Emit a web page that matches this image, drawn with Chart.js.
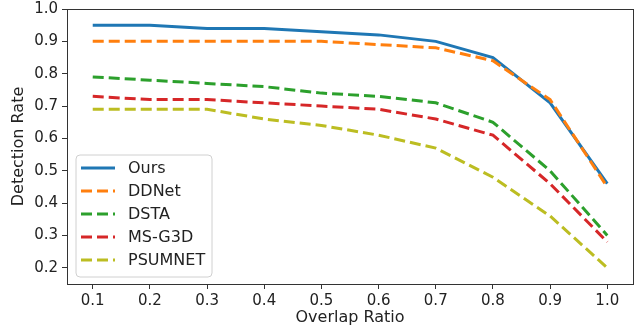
<!DOCTYPE html>
<html>
<head>
<meta charset="utf-8">
<script src="https://cdn.jsdelivr.net/npm/chart.js@4"></script>
<style>
  body { margin: 0; background: #fff; }
  #wrap { width: 637px; height: 327px; }
</style>
</head>
<body>
<div id="wrap"><canvas id="chart" width="637" height="327"></canvas></div>
<script>
const overlapRatios = [0.1, 0.2, 0.3, 0.4, 0.5, 0.6, 0.7, 0.8, 0.9, 1.0];
const ours = [0.95, 0.95, 0.94, 0.94, 0.93, 0.92, 0.90, 0.85, 0.71, 0.46];
const ddnet = [0.90, 0.90, 0.90, 0.90, 0.90, 0.89, 0.88, 0.84, 0.72, 0.45];
const dsta = [0.79, 0.78, 0.77, 0.76, 0.74, 0.73, 0.71, 0.65, 0.50, 0.30];
const msg3d = [0.73, 0.72, 0.72, 0.71, 0.70, 0.69, 0.66, 0.61, 0.46, 0.28];
const psumnet = [0.69, 0.69, 0.69, 0.66, 0.64, 0.61, 0.57, 0.48, 0.36, 0.20];
const yTicks = [0.2, 0.3, 0.4, 0.5, 0.6, 0.7, 0.8, 0.9, 1.0];

const fontFamily = "'DejaVu Sans', sans-serif";

const toPoints = values => values.map((v, i) => ({ x: overlapRatios[i], y: v }));

const makeSet = (label, values, color, dashed, order) => ({
  label: label,
  data: toPoints(values),
  borderColor: color,
  backgroundColor: color,
  borderWidth: 3,
  borderDash: dashed ? [11, 5] : [],
  pointRadius: 0,
  tension: 0,
  fill: false,
  order: order
});

// frame around the plot + matplotlib style legend box
const framePlugin = {
  id: 'frame',
  afterDatasetsDraw(chart) {
    const { ctx, chartArea: a } = chart;
    ctx.save();
    ctx.strokeStyle = '#333';
    ctx.lineWidth = 1;
    ctx.strokeRect(a.left + 0.5, a.top + 0.5, a.right - a.left, a.bottom - a.top);

    // legend
    const bx = 76, by = 155, bw = 136, bh = 122, r = 4;
    ctx.beginPath();
    ctx.moveTo(bx + r, by);
    ctx.arcTo(bx + bw, by, bx + bw, by + bh, r);
    ctx.arcTo(bx + bw, by + bh, bx, by + bh, r);
    ctx.arcTo(bx, by + bh, bx, by, r);
    ctx.arcTo(bx, by, bx + bw, by, r);
    ctx.closePath();
    ctx.fillStyle = 'rgba(255,255,255,0.8)';
    ctx.fill();
    ctx.strokeStyle = '#d0d0d0';
    ctx.stroke();

    ctx.font = '16px ' + fontFamily;
    ctx.textBaseline = 'middle';
    ctx.textAlign = 'left';
    chart.data.datasets.forEach((ds, i) => {
      const y = 168 + i * 23;
      ctx.beginPath();
      ctx.setLineDash(ds.borderDash);
      ctx.lineWidth = 3;
      ctx.strokeStyle = ds.borderColor;
      ctx.moveTo(81, y);
      ctx.lineTo(115, y);
      ctx.stroke();
      ctx.setLineDash([]);
      ctx.fillStyle = '#222';
      ctx.fillText(ds.label, 128, y + 1);
    });
    ctx.restore();
  }
};

const ctx = document.getElementById('chart').getContext('2d');
new Chart(ctx, {
  type: 'line',
  data: {
    datasets: [
      makeSet('Ours', ours, '#1f77b4', false, 5),
      makeSet('DDNet', ddnet, '#ff7f0e', true, 4),
      makeSet('DSTA', dsta, '#2ca02c', true, 3),
      makeSet('MS-G3D', msg3d, '#d62728', true, 2),
      makeSet('PSUMNET', psumnet, '#bcbd22', true, 1)
    ]
  },
  options: {
    responsive: false,
    animation: false,
    layout: { padding: { top: 9, right: 4, left: 0, bottom: 0 } },
    plugins: {
      legend: { display: false },
      tooltip: { enabled: false }
    },
    scales: {
      x: {
        type: 'linear',
        min: 0.055,
        max: 1.045,
        afterBuildTicks: scale => {
          scale.ticks = overlapRatios.map(v => ({ value: v }));
        },
        afterFit: scale => { scale.height = 43; },
        grid: { drawOnChartArea: false, drawTicks: true, tickLength: 5, tickColor: '#333' },
        border: { display: false },
        ticks: {
          color: '#222',
          font: { size: 15, family: fontFamily },
          padding: 3,
          maxRotation: 0,
          callback: v => v.toFixed(1)
        },
        title: {
          display: true,
          text: 'Overlap Ratio',
          color: '#222',
          font: { size: 16, family: fontFamily },
          padding: { top: 0, bottom: 0 }
        }
      },
      y: {
        min: 0.15,
        max: 1.0,
        afterBuildTicks: scale => {
          scale.ticks = yTicks.map(v => ({ value: v }));
        },
        afterFit: scale => {
          scale.width = 67;
          scale.paddingTop = 0;
          scale.paddingBottom = 0;
        },
        grid: { drawOnChartArea: false, drawTicks: true, tickLength: 5, tickColor: '#333' },
        border: { display: false },
        ticks: {
          color: '#222',
          font: { size: 15, family: fontFamily },
          padding: 4,
          callback: v => v.toFixed(1)
        },
        title: {
          display: true,
          text: 'Detection Rate',
          color: '#222',
          font: { size: 16, family: fontFamily },
          padding: { top: 9, bottom: 0 }
        }
      }
    }
  },
  plugins: [framePlugin]
});
</script>
</body>
</html>
